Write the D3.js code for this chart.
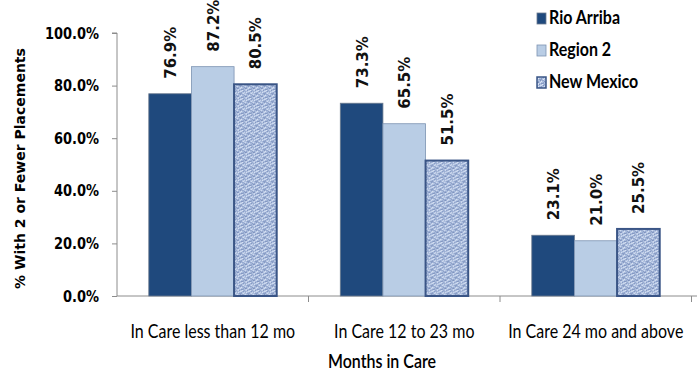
<!DOCTYPE html>
<html><head><meta charset="utf-8"><script src="https://cdn.jsdelivr.net/npm/d3@7"></script>
<style>body{margin:0;background:#fff}</style></head>
<body>
<svg id="chart" width="697" height="373"></svg>
<script>
// ---- data ----
const categories = ["In Care less than 12 mo", "In Care 12 to 23 mo", "In Care 24 mo and above"];
const seriesNames = ["Rio Arriba", "Region 2", "New Mexico"];
const rioArriba = [0.769, 0.733, 0.231];
const region2   = [0.872, 0.655, 0.210];
const newMexico = [0.805, 0.515, 0.255];
const yTicks = [0, 0.2, 0.4, 0.6, 0.8, 1.0];
const yTitle = "% With 2 or Fewer Placements";
const xTitle = "Months in Care";
const sourceNote = "Source: AFCARS Rolling 12 Months";

const seriesValues = [rioArriba, region2, newMexico];
const rows = categories.map((c, i) => ({cat: c, vals: seriesNames.map((s, j) => ({series: s, idx: j, v: seriesValues[j][i]}))}));

const svg = d3.select("#chart");
const defs = svg.append("defs");
// textured fill for New Mexico (fixed speckle pattern)
const pat = defs.append("pattern").attr("id", "tex").attr("patternUnits", "userSpaceOnUse")
  .attr("width", 8).attr("height", 8);
pat.append("rect").attr("width", 8).attr("height", 8).attr("fill", "#adbfdf");
const specks = [
  [0,0,2,1,"#7f93bf"],[3,0,1,1,"#dbe4f4"],[6,0,1,2,"#8fa3ca"],
  [1,1,1,2,"#d6e0f2"],[4,1,2,1,"#8397c2"],
  [2,2,1,1,"#7a8fbb"],[5,2,1,1,"#e2e9f6"],[7,2,1,1,"#90a4cb"],
  [0,3,1,2,"#93a7cd"],[3,3,2,1,"#cfdbef"],[6,3,1,1,"#7b90bc"],
  [1,4,1,1,"#e0e8f6"],[4,4,1,2,"#889cc5"],[7,4,1,1,"#d3ddf0"],
  [2,5,2,1,"#8a9ec6"],[6,5,1,1,"#dde6f5"],
  [0,6,1,1,"#d8e1f3"],[3,6,1,1,"#7d92be"],[5,6,2,1,"#95a8ce"],
  [1,7,1,1,"#8c9fc7"],[4,7,1,1,"#e4ebf7"],[7,7,1,1,"#8196c1"]
];
specks.forEach(([x, y, w, h, c]) => pat.append("rect").attr("x", x).attr("y", y).attr("width", w).attr("height", h).attr("fill", c));

const fills = ["#1f497d", "#b9cde5", "url(#tex)"];
const strokes = ["#6b7a8f", "#7d93b2", "#3a5586"];
const strokeW = [0.8, 0.8, 2];

const x0 = 117, x1 = 691.5, yTop = 33, yBot = 296;
const x = d3.scaleBand().domain(categories).range([x0, x1]).paddingInner(0.332).paddingOuter(0.166);
const xs = d3.scaleBand().domain(d3.range(seriesNames.length)).range([0, x.bandwidth()]);
const y = d3.scaleLinear().domain([0, 1]).range([yBot, yTop]);

// y axis
const yAxis = d3.axisLeft(y).tickValues(yTicks).tickFormat(d3.format(".1%")).tickSize(5).tickPadding(13);
const gy = svg.append("g").attr("transform", `translate(${x0},0)`).call(yAxis);
gy.select(".domain").attr("stroke", "#8c8c8c").attr("d", `M-5,${yTop}H0V${yBot}`);
gy.selectAll(".tick line").attr("stroke", "#8c8c8c");
gy.selectAll(".tick text").attr("fill", "#000").attr("transform", "scale(1,1.2)")
  .style("font-family", "DejaVu Sans").style("font-weight", "bold").style("font-size", "13px");

// x axis
const boundaries = categories.map(c => x(c) - x.step() * x.paddingInner() / 2).concat([x1]);
const gx = svg.append("g").attr("transform", `translate(0,${yBot})`);
gx.append("line").attr("x1", x0).attr("x2", 697).attr("y1", 0).attr("y2", 0).attr("stroke", "#8c8c8c");
gx.selectAll("line.tk").data(boundaries.slice(1)).join("line").attr("class", "tk")
  .attr("x1", d => d).attr("x2", d => d).attr("y1", 0).attr("y2", 6).attr("stroke", "#8c8c8c");

// bars
const groups = svg.append("g").selectAll("g").data(rows).join("g").attr("transform", d => `translate(${x(d.cat)},0)`);
groups.selectAll("rect").data(d => d.vals).join("rect")
  .attr("x", d => xs(d.idx)).attr("width", xs.bandwidth())
  .attr("y", d => y(d.v)).attr("height", d => yBot - y(d.v))
  .attr("fill", d => fills[d.idx]).attr("stroke", d => strokes[d.idx]).attr("stroke-width", d => strokeW[d.idx]);
groups.selectAll("text").data(d => d.vals).join("text")
  .attr("transform", d => `translate(${xs(d.idx) + xs.bandwidth() / 2 + 1},${y(d.v) - 15}) rotate(-90)`)
  .attr("dominant-baseline", "central")
  .style("font-family", "DejaVu Sans").style("font-weight", "bold").style("font-size", "15px").attr("fill", "#111")
  .text(d => d3.format(".1%")(d.v));

// category labels (slightly stretched like the original)
svg.append("g").selectAll("text").data(categories).join("text")
  .attr("transform", d => `translate(${x(d) + x.bandwidth() / 2},${338}) scale(1,1.15)`)
  .attr("text-anchor", "middle").style("font-family", "Lato").style("font-size", "16px").attr("fill", "#000")
  .text(d => d);

// axis titles
svg.append("text").attr("transform", `translate(${(x0 + 697) / 2 - 25},${368}) scale(1,1.15)`)
  .attr("text-anchor", "middle").style("font-family", "Lato").style("font-weight", "600").style("font-size", "16px").text(xTitle);
svg.append("text").attr("transform", `translate(25,${(yTop + yBot) / 2 + 4}) rotate(-90)`)
  .attr("text-anchor", "middle").style("font-family", "DejaVu Sans").style("font-weight", "bold").style("font-size", "14px").text(yTitle);

// source note (mostly cut off at the bottom edge, as in the original)
svg.append("text").attr("x", 0).attr("y", 384).style("font-family", "Lato").style("font-weight", "bold").style("font-size", "14px").text(sourceNote);

// legend
const leg = svg.append("g").selectAll("g").data(seriesNames).join("g")
  .attr("transform", (d, i) => `translate(537,${18 + i * 32})`);
leg.append("rect").attr("x", 0).attr("y", -5).attr("width", 9).attr("height", 11)
  .attr("fill", (d, i) => fills[i]).attr("stroke", (d, i) => strokes[i]).attr("stroke-width", (d, i) => i === 2 ? 1.5 : 0.8);
leg.append("text").attr("transform", "translate(12,6) scale(1,1.2)")
  .style("font-family", "Lato").style("font-weight", "bold").style("font-size", "16px").text(d => d);
</script></body></html>
